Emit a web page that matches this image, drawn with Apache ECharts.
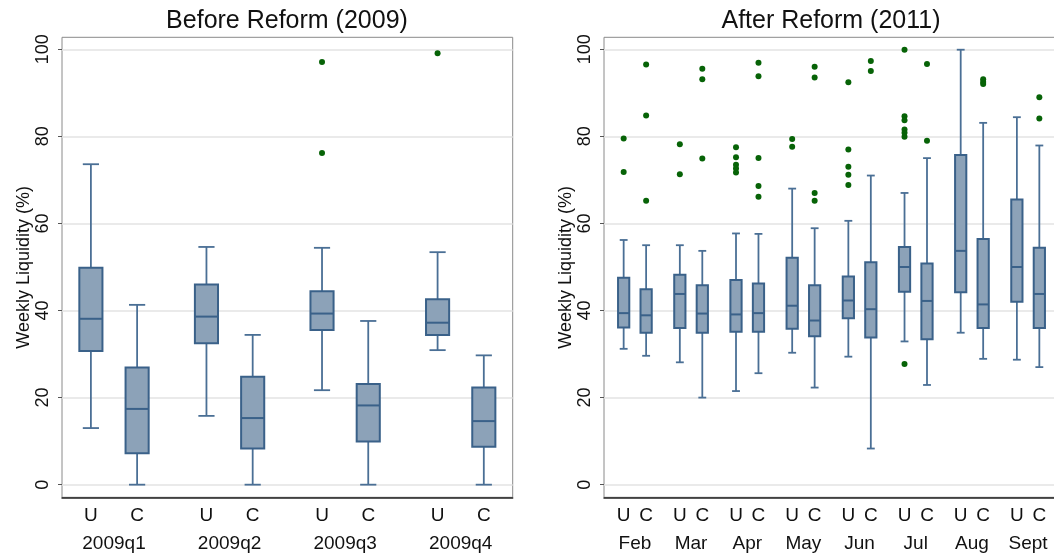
<!DOCTYPE html>
<html>
<head>
<meta charset="utf-8">
<script src="https://cdn.jsdelivr.net/npm/echarts@6/dist/echarts.min.js"></script>
<style>
html,body{margin:0;padding:0;background:#fff;overflow:hidden;}
#chart{width:1064px;height:558px;}
</style>
</head>
<body>
<div id="chart"></div>
<script>
// ---------------- data ----------------
const panelTitles = ['Before Reform (2009)', 'After Reform (2011)'];
const yAxisName = 'Weekly Liquidity (%)';
const yTicks = [0, 20, 40, 60, 80, 100];
const types = ['U', 'C'];
const quarters = ['2009q1', '2009q2', '2009q3', '2009q4'];
const months = ['Feb', 'Mar', 'Apr', 'May', 'Jun', 'Jul', 'Aug', 'Sept'];

// [min, Q1, median, Q3, max]
const beforeU = [
  [13.0, 30.7, 38.1, 49.8, 73.6],
  [15.8, 32.5, 38.6, 46.0, 54.6],
  [21.7, 35.5, 39.3, 44.4, 54.4],
  [30.9, 34.4, 37.2, 42.6, 53.4]
];
const beforeC = [
  [0, 7.2, 17.4, 26.9, 41.3],
  [0, 8.3, 15.3, 24.8, 34.4],
  [0, 9.9, 18.2, 23.1, 37.6],
  [0, 8.7, 14.6, 22.3, 29.7]
];
const beforeUOut = [[], [], [97.1, 76.2], [99.1]];
const beforeCOut = [[], [], [], []];

const afterU = [
  [31.2, 36.1, 39.4, 47.5, 56.2],
  [28.1, 36.0, 43.8, 48.2, 55.0],
  [21.5, 35.1, 39.1, 47.0, 57.7],
  [30.3, 35.8, 41.1, 52.1, 68.0],
  [29.4, 38.2, 42.3, 47.8, 60.6],
  [32.9, 44.3, 50.0, 54.6, 67.0],
  [34.9, 44.2, 53.7, 75.7, 99.9],
  [28.7, 42.0, 50.0, 65.5, 84.4]
];
const afterC = [
  [29.6, 34.9, 38.9, 44.9, 55.0],
  [20.0, 34.9, 39.3, 45.8, 53.7],
  [25.6, 35.1, 39.4, 46.2, 57.6],
  [22.3, 34.1, 37.7, 45.8, 58.9],
  [8.3, 33.8, 40.3, 51.1, 71.0],
  [22.9, 33.4, 42.2, 50.8, 75.0],
  [28.9, 36.0, 41.4, 56.4, 83.1],
  [27.0, 36.0, 43.8, 54.4, 77.9]
];
const afterUOut = [
  [79.5, 71.8],
  [78.2, 71.3],
  [77.5, 75.2, 73.5, 72.6, 71.7],
  [79.4, 77.6],
  [92.4, 77.0, 73.0, 71.2, 68.8],
  [99.9, 84.6, 83.7, 81.6, 80.8, 79.9, 27.7],
  [],
  []
];
const afterCOut = [
  [96.5, 84.8, 65.2],
  [95.5, 93.1, 74.9],
  [96.9, 93.8, 75.0, 68.6, 66.1],
  [96.0, 93.5, 67.0, 65.2],
  [97.3, 95.0],
  [96.6, 79.0],
  [93.1, 92.5, 92.0],
  [89.0, 84.1]
];

// ---------------- styling / layout ----------------
const FONT = "'Liberation Sans', Arial, Helvetica, sans-serif";
const FILL = '#8ca2b8';
const EDGE = '#3a6189';
const WHISK = '#4a6f95';
const DOT = '#076307';

// slot layout: U at first, C four slots later, group label midway, groups 10 slots apart
function buildPanel(groups, uStats, cStats, uOut, cOut, firstSlot, nSlots) {
  const labels = new Array(nSlots).fill('');
  const boxes = [], dots = [];
  groups.forEach((g, i) => {
    const uSlot = firstSlot + 10 * i, cSlot = uSlot + 4, mid = uSlot + 2;
    labels[uSlot] = types[0];
    labels[cSlot] = types[1];
    labels[mid] = '\n' + g;
    boxes.push([uSlot].concat(uStats[i]));
    boxes.push([cSlot].concat(cStats[i]));
    uOut[i].forEach(v => dots.push([uSlot, v]));
    cOut[i].forEach(v => dots.push([cSlot, v]));
  });
  const cats = labels.map((_, i) => String(i));
  return { labels, cats, boxes, dots };
}

const left = buildPanel(quarters, beforeU, beforeC, beforeUOut, beforeCOut, 2, 39);
const right = buildPanel(months, afterU, afterC, afterUOut, afterCOut, 3, 81);

function renderBox(params, api) {
  const x = api.value(0);
  const p = i => api.coord([x, api.value(i)]);
  const lo = p(1), q1 = p(2), md = p(3), q3 = p(4), hi = p(5);
  const slot = api.size([1, 0])[0];
  const half = slot, cap = slot * 0.7;
  const cx = lo[0];
  const ws = { stroke: WHISK, lineWidth: 1.8 };
  return {
    type: 'group',
    children: [
      { type: 'line', shape: { x1: cx, y1: hi[1], x2: cx, y2: q3[1] }, style: ws },
      { type: 'line', shape: { x1: cx, y1: q1[1], x2: cx, y2: lo[1] }, style: ws },
      { type: 'line', shape: { x1: cx - cap, y1: hi[1], x2: cx + cap, y2: hi[1] }, style: ws },
      { type: 'line', shape: { x1: cx - cap, y1: lo[1], x2: cx + cap, y2: lo[1] }, style: ws },
      { type: 'rect', shape: { x: cx - half, y: q3[1], width: 2 * half, height: q1[1] - q3[1] },
        style: { fill: FILL, stroke: EDGE, lineWidth: 2 } },
      { type: 'line', shape: { x1: cx - half, y1: md[1], x2: cx + half, y2: md[1] },
        style: { stroke: EDGE, lineWidth: 2 } }
    ]
  };
}

function xAxisFor(panel, gridIndex) {
  return {
    type: 'category', gridIndex, data: panel.cats, boundaryGap: true,
    axisLine: { show: true, onZero: false, lineStyle: { color: '#222', width: 1.5 } },
    axisTick: { show: false },
    splitLine: { show: false },
    axisLabel: {
      interval: 0, margin: 4, fontSize: 19, lineHeight: 28, color: '#111', fontFamily: FONT,
      formatter: (v, i) => panel.labels[i]
    }
  };
}
function yAxisFor(gridIndex) {
  return {
    type: 'value', gridIndex, min: -2.9, max: 102.75,
    name: yAxisName, nameLocation: 'middle', nameGap: 29,
    nameTextStyle: { fontSize: 18, color: '#111', fontFamily: FONT },
    axisLine: { show: false },
    axisTick: { show: true, customValues: yTicks, length: 4, lineStyle: { color: '#555' } },
    axisLabel: { customValues: yTicks, rotate: 90, margin: 10, fontSize: 18, color: '#111', fontFamily: FONT },
    splitLine: { show: true, lineStyle: { color: '#e3e3e3', width: 1.5 } }
  };
}

const chart = echarts.init(document.getElementById('chart'), null, { renderer: 'canvas' });
chart.setOption({
  animation: false,
  backgroundColor: '#fff',
  title: [
    { text: panelTitles[0], left: 287, top: 9, textAlign: 'center', padding: 0,
      textStyle: { fontSize: 25, fontWeight: 'normal', color: '#111', fontFamily: FONT } },
    { text: panelTitles[1], left: 831, top: 9, textAlign: 'center', padding: 0,
      textStyle: { fontSize: 25, fontWeight: 'normal', color: '#111', fontFamily: FONT } }
  ],
  grid: [
    { left: 62, right: 551.3, top: 37.3, bottom: 60.7, show: true, borderColor: '#8a8a8a', borderWidth: 1, backgroundColor: 'transparent' },
    { left: 604, right: 5, top: 37.3, bottom: 60.7, show: true, borderColor: '#8a8a8a', borderWidth: 1, backgroundColor: 'transparent' }
  ],
  xAxis: [xAxisFor(left, 0), xAxisFor(right, 1)],
  yAxis: [yAxisFor(0), yAxisFor(1)],
  series: [
    { type: 'custom', xAxisIndex: 0, yAxisIndex: 0, renderItem: renderBox, data: left.boxes,
      encode: { x: 0, y: [1, 2, 3, 4, 5] }, z: 2 },
    { type: 'custom', xAxisIndex: 1, yAxisIndex: 1, renderItem: renderBox, data: right.boxes,
      encode: { x: 0, y: [1, 2, 3, 4, 5] }, z: 2 },
    { type: 'scatter', xAxisIndex: 0, yAxisIndex: 0, data: left.dots, symbol: 'circle', symbolSize: 6,
      itemStyle: { color: DOT, opacity: 1 }, z: 3 },
    { type: 'scatter', xAxisIndex: 1, yAxisIndex: 1, data: right.dots, symbol: 'circle', symbolSize: 6,
      itemStyle: { color: DOT, opacity: 1 }, z: 3 }
  ]
});
</script>
</body>
</html>
